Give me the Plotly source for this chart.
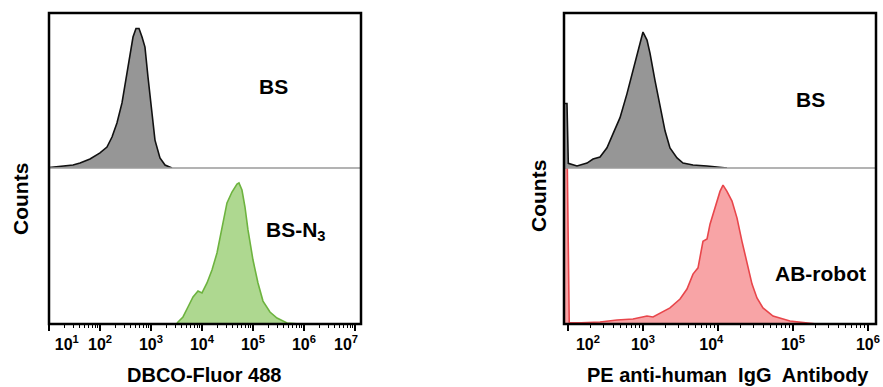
import plotly.graph_objects as go

W, H = 883, 387

# ---------------- data (fluorescence intensity vs normalised counts) ----------------
# Left panel: DBCO-Fluor 488
bs_left_x = [10, 12.0, 29.6, 40.6, 63.7, 100, 137, 172, 215, 270, 338, 387, 444, 508,
             582, 667, 762, 873, 1047, 1197, 1500, 1884, 2582]
bs_left_y = [0.3, 0.6, 1.9, 3.2, 5.8, 9.7, 13.5, 20, 29, 42, 61, 74, 84.5, 90,
             90, 84.5, 78, 58.7, 35.5, 18, 6.5, 1.9, 0]

n3_x = [3236, 4236, 5309, 6668, 8356, 10000, 12530, 15700, 19680, 24660, 30900, 38730,
        48530, 53090, 60810, 69660, 79800, 100000, 125300, 157000, 215300, 295800,
        464500, 835600]
n3_y = [0.6, 4.5, 10.9, 17.3, 21.2, 19.9, 26.3, 34.6, 45.5, 62.2, 77.6, 84.6,
        89.7, 90.4, 85.9, 75, 60.3, 41, 26.3, 14.7, 7.7, 3.8, 0.6, 0]

# Right panel: PE anti-human IgG Antibody
bs_right_x = [89, 97, 101, 106, 131.8, 179.5, 215.8, 267.3, 331.1, 398.1, 494.3, 612.4,
              714.5, 831.8, 912, 1000, 1132, 1242, 1445, 1687, 1968, 2291, 2844, 3420,
              4645, 7145, 11320, 13180]
bs_right_y = [41.6, 41.6, 3.0, 2.6, 1.3, 3.2, 5.8, 7.1, 13, 22, 32.5, 48,
              61, 74, 80.5, 87.7, 82.5, 74, 56.5, 39, 24, 13, 6.5, 3.2,
              1.9, 1.3, 0.6, 0]

ab_x = [89, 98, 104, 150, 267.3, 450.8, 736.2, 1132, 1361, 1687, 2291, 3119, 3864, 4645,
        5420, 6310, 7145, 7834, 9120, 10640, 11670, 13180, 15380, 17950, 20890, 24380,
        28440, 33110, 39810, 54200, 91200, 208900]
ab_y = [100, 100, 1.0, 0.8, 1.3, 2.6, 3.2, 5.1, 4.5, 7, 10.3, 16, 22.4, 32,
        36, 53, 54.5, 64, 74.4, 85, 89, 85, 78.8, 67.9, 53, 38.5,
        25.6, 16.7, 10.3, 5.1, 1.9, 0]

left_tickvals = [1e1, 1e2, 1e3, 1e4, 1e5, 1e6, 1e7]
left_ticktext = ["&nbsp;" * 8 + "10<sup>1</sup>", "10<sup>2</sup>", "10<sup>3</sup>",
                 "10<sup>4</sup>", "10<sup>5</sup>", "10<sup>6</sup>",
                 "10<sup>7</sup>" + "&nbsp;" * 4]
right_tickvals = [1e2, 1e3, 1e4, 1e5, 1e6]
right_ticktext = ["&nbsp;" * 9 + "10<sup>2</sup>", "10<sup>3</sup>",
                  "10<sup>4</sup>" + "&nbsp;" * 3, "10<sup>5</sup>", "10<sup>6</sup>"]

minor_mult = [2, 3, 4, 5, 6, 7, 8, 9]
left_minor = [m * 10 ** k for k in range(1, 7) for m in minor_mult]
right_minor = [m * 10 ** k for k in range(2, 6) for m in minor_mult]

# ---------------- layout geometry ----------------
def px(x):
    return x / W

def py(y):
    return 1 - y / H

L0, L1 = px(49), px(361)
R0, R1 = px(564), px(876)
Y_TOP, Y_MID, Y_BOT = py(13), py(168), py(324)

FONT = "Arial, Liberation Sans, sans-serif"

fig = go.Figure()

fig.add_trace(go.Scatter(x=bs_left_x, y=bs_left_y, xaxis="x2", yaxis="y2", mode="lines",
                         line=dict(color="#111111", width=1.6), fill="tozeroy",
                         fillcolor="#969696", hoverinfo="skip", showlegend=False))
fig.add_trace(go.Scatter(x=n3_x, y=n3_y, xaxis="x", yaxis="y", mode="lines",
                         line=dict(color="#6db33f", width=1.6), fill="tozeroy",
                         fillcolor="#aed890", hoverinfo="skip", showlegend=False))
fig.add_trace(go.Scatter(x=bs_right_x, y=bs_right_y, xaxis="x4", yaxis="y4", mode="lines",
                         line=dict(color="#111111", width=1.6), fill="tozeroy",
                         fillcolor="#969696", hoverinfo="skip", showlegend=False))
fig.add_trace(go.Scatter(x=ab_x, y=ab_y, xaxis="x3", yaxis="y3", mode="lines",
                         line=dict(color="#e8464b", width=1.6), fill="tozeroy",
                         fillcolor="#f8a4a6", hoverinfo="skip", showlegend=False))

left_range = [1.0, 7.118]
right_range = [1.947, 6.107]

def xaxis_common(domain, rng, anchor, tickvals, ticktext, minor_vals):
    return dict(domain=domain, type="log", range=rng, anchor=anchor, automargin=False,
                tickmode="array", tickvals=tickvals, ticktext=ticktext,
                ticks="outside", ticklen=6, tickwidth=1.5, tickcolor="black",
                minor=dict(tickmode="array", tickvals=minor_vals, ticks="outside",
                           ticklen=3, tickwidth=1, tickcolor="black", showgrid=False),
                showline=False, showgrid=False, zeroline=False,
                tickfont=dict(family=FONT, size=16, color="black"), fixedrange=True)

def hidden_x(domain, rng, anchor):
    return dict(domain=domain, type="log", range=rng, anchor=anchor, visible=False,
                automargin=False, showgrid=False, zeroline=False)

def yax(domain, anchor):
    return dict(domain=domain, range=[0, 100], anchor=anchor, visible=False,
                automargin=False, showgrid=False, zeroline=False)

fig.update_layout(
    width=W, height=H, autosize=False,
    margin=dict(l=0, r=0, t=0, b=0, pad=0),
    paper_bgcolor="white", plot_bgcolor="rgba(0,0,0,0)",
    font=dict(family=FONT, color="black"),
    xaxis=xaxis_common([L0, L1], left_range, "y", left_tickvals,
                       [f"<b>{t}</b>" for t in left_ticktext], left_minor),
    yaxis=yax([Y_BOT, Y_MID], "x"),
    xaxis2=hidden_x([L0, L1], left_range, "y2"),
    yaxis2=yax([Y_MID, Y_TOP], "x2"),
    xaxis3=xaxis_common([R0, R1], right_range, "y3", right_tickvals,
                        [f"<b>{t}</b>" for t in right_ticktext], right_minor),
    yaxis3=yax([Y_BOT, Y_MID], "x3"),
    xaxis4=hidden_x([R0, R1], right_range, "y4"),
    yaxis4=yax([Y_MID, Y_TOP], "x4"),
)

shapes = []
for x0, x1 in [(L0, L1), (R0, R1)]:
    shapes.append(dict(type="line", xref="paper", yref="paper", x0=x0, x1=x1,
                       y0=Y_MID, y1=Y_MID, line=dict(color="#9a9a9a", width=1.5)))
    shapes.append(dict(type="rect", xref="paper", yref="paper", x0=x0, x1=x1,
                       y0=Y_BOT, y1=Y_TOP, line=dict(color="black", width=2.5)))
fig.update_layout(shapes=shapes)

def ann(text, x, y, size=21, angle=0):
    return dict(text=text, x=x, y=y, xref="paper", yref="paper", showarrow=False,
                xanchor="center", yanchor="middle", textangle=angle,
                font=dict(family=FONT, size=size, color="black"))

fig.update_layout(annotations=[
    ann("<b>Counts</b>", px(20), py(199), angle=-90),
    ann("<b>Counts</b>", px(538), py(196), angle=-90),
    ann("<b>BS</b>", px(273), py(86)),
    ann("<b>BS-N<sub>3</sub></b>", px(296), py(231)),
    ann("<b>BS</b>", px(810), py(99)),
    ann("<b>AB-robot</b>", px(820), py(273)),
    ann("<b>DBCO-Fluor 488</b>", px(204), py(375), size=20),
    ann("<b>PE anti-human&nbsp; IgG&nbsp; Antibody</b>", px(728), py(375), size=20),
])

fig.write_html("out.html", config={"displayModeBar": False},
               post_script="document.body.style.margin='0';document.body.style.overflow='hidden';")
